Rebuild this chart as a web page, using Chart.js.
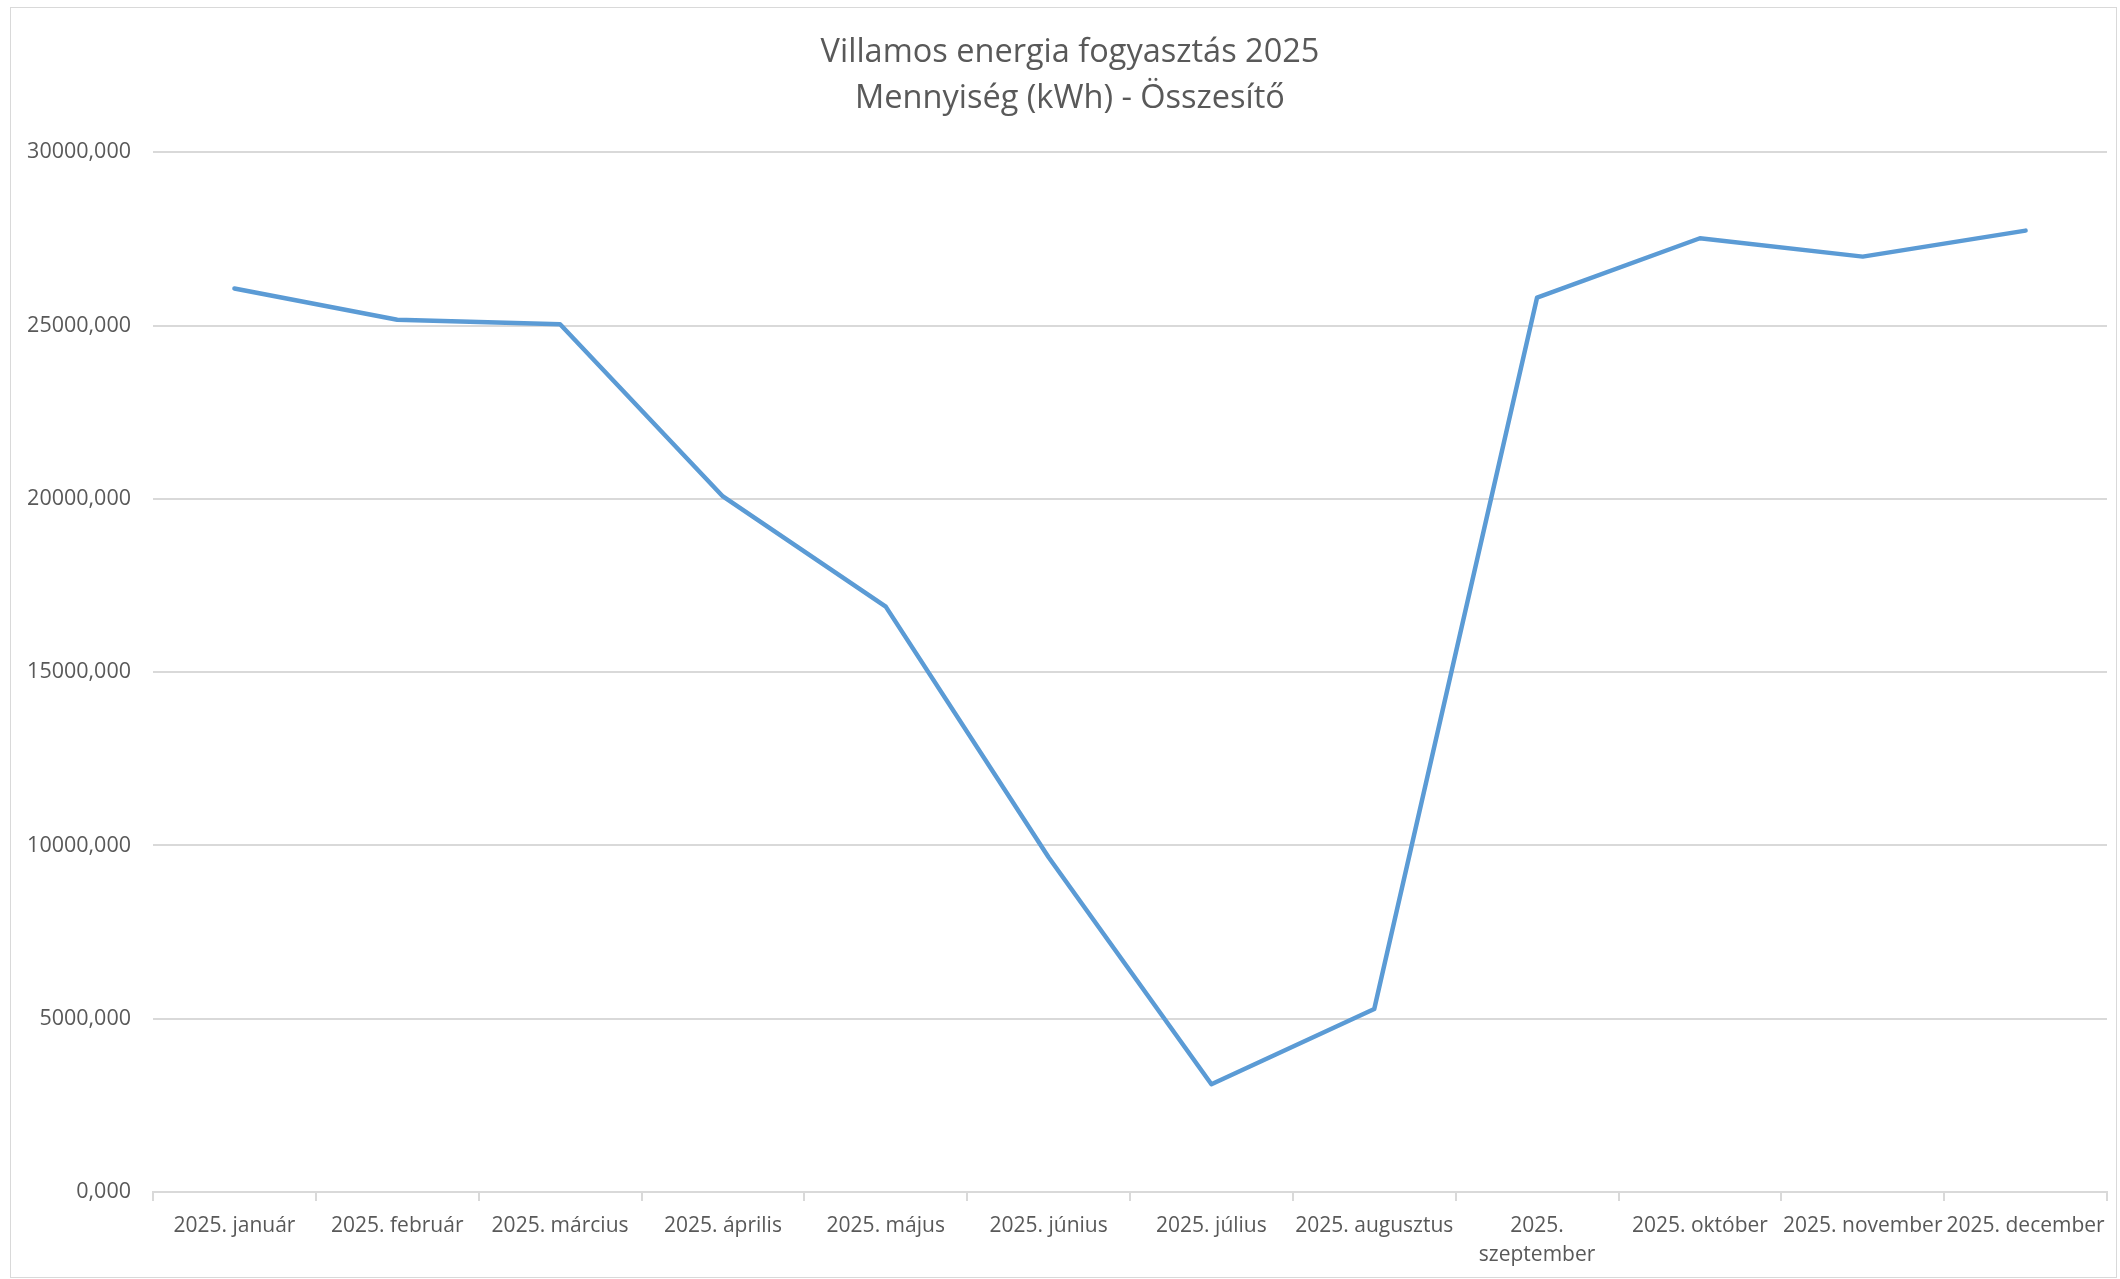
<!DOCTYPE html>
<html>
<head>
<meta charset="utf-8">
<script src="https://cdn.jsdelivr.net/npm/chart.js@4/dist/chart.umd.min.js"></script>
<style>
  html, body { margin:0; padding:0; background:#fff; }
  #wrap { position:absolute; left:10px; top:7px; width:2105px; height:1269px; border:1px solid #d9d9d9; }
  #chart { display:block; }
</style>
</head>
<body>
<div id="wrap"><canvas id="chart" width="2105" height="1269"></canvas></div>
<script>
/* Villamos energia fogyasztás 2025 — havi összesítő */

const months = ['2025. január','2025. február','2025. március','2025. április','2025. május','2025. június',
                '2025. július','2025. augusztus','2025. szeptember','2025. október','2025. november','2025. december'];
const kwh    = [26070, 25170, 25040, 20070, 16890, 9660, 3110, 5280, 25810, 27520, 26990, 27740];
const titleLines = ['Villamos energia fogyasztás 2025', 'Mennyiség (kWh) - Összesítő'];
const yTicks = { min:0, max:30000, step:5000 };

const TEXT = '#595959', GRID = '#d9d9d9';
const FONT = "'Open Sans', sans-serif";

const fmtHu = v => v.toFixed(3).replace('.', ',');

// Excel centres the title on the whole chart area, nudge it a bit to the right
const titleNudge = {
  id: 'titleNudge',
  afterLayout(chart) {
    const t = chart.titleBlock;
    if (t) { t.left += 11; t.right += 11; }
  }
};

new Chart(document.getElementById('chart'), {
  type: 'line',
  data: {
    labels: months,
    datasets: [{ data: kwh, borderColor: '#5b9bd5', borderWidth: 4.5, pointRadius: 0, tension: 0,
                 borderJoinStyle: 'round', borderCapStyle: 'round', fill: false }]
  },
  options: {
    responsive: false, animation: false,
    layout: { padding: { left:0, right:9, top:0, bottom:0 } },
    plugins: {
      legend: { display:false },
      tooltip: { enabled:false },
      title: { display:true, text:titleLines, color:TEXT,
               font:{ family:FONT, size:32.5, weight:'normal', lineHeight:1.42 },
               padding:{ top:22, bottom:30 } }
    },
    scales: {
      x: {
        offset: true,
        grid: { drawOnChartArea:false, drawTicks:true, tickLength:9, offset:true, color:GRID, lineWidth:2 },
        border: { color:GRID, width:2 },
        ticks: { color:TEXT, padding:10, maxRotation:0, autoSkip:false,
                 font:{ family:FONT, size:21, lineHeight:1.4 },
                 callback: function(v) { const l = this.getLabelForValue(v); return l.length > 15 ? l.split(' ') : l; } },
        afterFit: s => { s.height = 85; }
      },
      y: {
        min: yTicks.min, max: yTicks.max,
        grid: { color:GRID, lineWidth:2, drawTicks:false },
        border: { display:false },
        ticks: { stepSize:yTicks.step, color:TEXT, padding:22, font:{ family:FONT, size:21.5 }, callback: v => fmtHu(v) },
        afterFit: s => { s.width = 142; }
      }
    }
  },
  plugins: [titleNudge]
});
</script>
</body>
</html>
